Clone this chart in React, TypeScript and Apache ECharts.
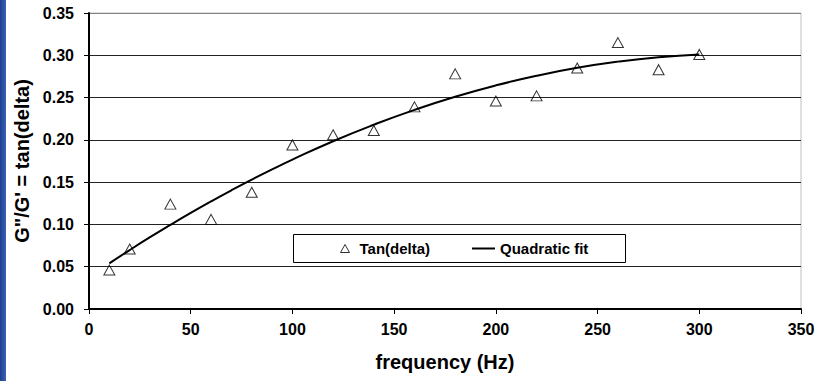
import React, { useEffect, useRef } from "react";
import * as echarts from "echarts";

const freqPoints = [10, 20, 40, 60, 80, 100, 120, 140, 160, 180, 200, 220, 240, 260, 280, 300];
const tanDelta = [0.046, 0.071, 0.124, 0.106, 0.138, 0.194, 0.206, 0.211, 0.239, 0.278, 0.246, 0.252, 0.285, 0.315, 0.283, 0.301];

const fitFreq = [10, 20, 30, 40, 50, 60, 70, 80, 90, 100, 120, 140, 160, 180, 200, 220, 240, 260, 280, 300];
const fitValues = [0.054, 0.0697, 0.0849, 0.0995, 0.1137, 0.1273, 0.1404, 0.153, 0.1651, 0.1767, 0.1984, 0.2179, 0.2355, 0.251, 0.2644, 0.2758, 0.2852, 0.2925, 0.2978, 0.301];

const FONT = "'Liberation Sans', Arial, sans-serif";

export default function App() {
  const ref = useRef<HTMLDivElement>(null);
  useEffect(() => {
    document.body.style.margin = "0";
    const chart = echarts.init(ref.current!, null, { renderer: "svg" });
    const legendText = { fontFamily: FONT, fontWeight: "bold", fontSize: 15, color: "#000" };
    chart.setOption({
      animation: false,
      backgroundColor: "#ffffff",
      textStyle: { fontFamily: FONT },
      graphic: [
        {
          type: "rect",
          left: 0,
          top: 0,
          shape: { x: 0, y: 0, width: 6, height: 381 },
          style: {
            fill: new echarts.graphic.LinearGradient(0, 0, 1, 0, [
              { offset: 0, color: "#1f3f8f" },
              { offset: 1, color: "#3a62b8" },
            ]),
          },
        },
        {
          type: "rect",
          z: 50,
          shape: { x: 293.5, y: 234.5, width: 332, height: 28 },
          style: { fill: "#ffffff", stroke: "#000000", lineWidth: 1 },
        },
      ],
      grid: {
        left: 89,
        right: 20,
        top: 13,
        bottom: 72,
        show: true,
        backgroundColor: "#ffffff",
        borderColor: "#c0c0c0",
        borderWidth: 1,
      },
      legend: [
        {
          left: 340,
          top: 241,
          padding: 0,
          z: 60,
          itemWidth: 9,
          itemHeight: 8,
          textStyle: { ...legendText, padding: [0, 0, 0, 5] },
          data: [
            { name: "Tan(delta)", icon: "triangle", itemStyle: { color: "#ffffff", borderColor: "#000", borderWidth: 1 } },
          ],
        },
        {
          left: 472,
          top: 241,
          padding: 0,
          z: 60,
          itemWidth: 23,
          itemHeight: 2,
          textStyle: legendText,
          data: [{ name: "Quadratic fit", icon: "rect", itemStyle: { color: "#000" } }],
        },
      ],
      xAxis: {
        type: "value",
        min: 0,
        max: 350,
        interval: 50,
        name: "frequency (Hz)",
        nameLocation: "middle",
        nameGap: 43,
        nameTextStyle: { fontFamily: FONT, fontWeight: "bold", fontSize: 20, color: "#000" },
        axisLine: { show: true, onZero: false, lineStyle: { color: "#000", width: 2 } },
        axisTick: { show: true, length: 5, lineStyle: { color: "#000", width: 1 } },
        axisLabel: { fontFamily: FONT, fontWeight: "bold", fontSize: 16, color: "#000", margin: 12 },
        splitLine: { show: false },
      },
      yAxis: {
        type: "value",
        min: 0,
        max: 0.35,
        interval: 0.05,
        name: "G\"/G' = tan(delta)",
        nameLocation: "middle",
        nameGap: 55,
        nameTextStyle: { fontFamily: FONT, fontWeight: "bold", fontSize: 20, color: "#000" },
        axisLine: { show: true, onZero: false, lineStyle: { color: "#000", width: 2 } },
        axisTick: { show: true, length: 5, lineStyle: { color: "#000", width: 1 } },
        axisLabel: {
          fontFamily: FONT,
          fontWeight: "bold",
          fontSize: 16,
          color: "#000",
          margin: 15,
          formatter: (v: number) => v.toFixed(2),
        },
        splitLine: {
          show: true,
          lineStyle: {
            color: ["#000", "#222", "#222", "#222", "#222", "#222", "#222", "#808080"],
            width: 1,
          },
        },
      },
      series: [
        {
          name: "Tan(delta)",
          type: "scatter",
          data: freqPoints.map((f, i) => [f, tanDelta[i]]),
          symbol: "triangle",
          symbolSize: [11, 10],
          itemStyle: { color: "rgba(255,255,255,0)", borderColor: "#000", borderWidth: 1 },
          z: 3,
        },
        {
          name: "Quadratic fit",
          type: "line",
          data: fitFreq.map((f, i) => [f, fitValues[i]]),
          smooth: true,
          symbol: "none",
          itemStyle: { color: "#000" },
          lineStyle: { color: "#000", width: 2 },
          z: 4,
        },
      ],
    });
    return () => chart.dispose();
  }, []);
  return <div ref={ref} style={{ width: 821, height: 381 }} />;
}
